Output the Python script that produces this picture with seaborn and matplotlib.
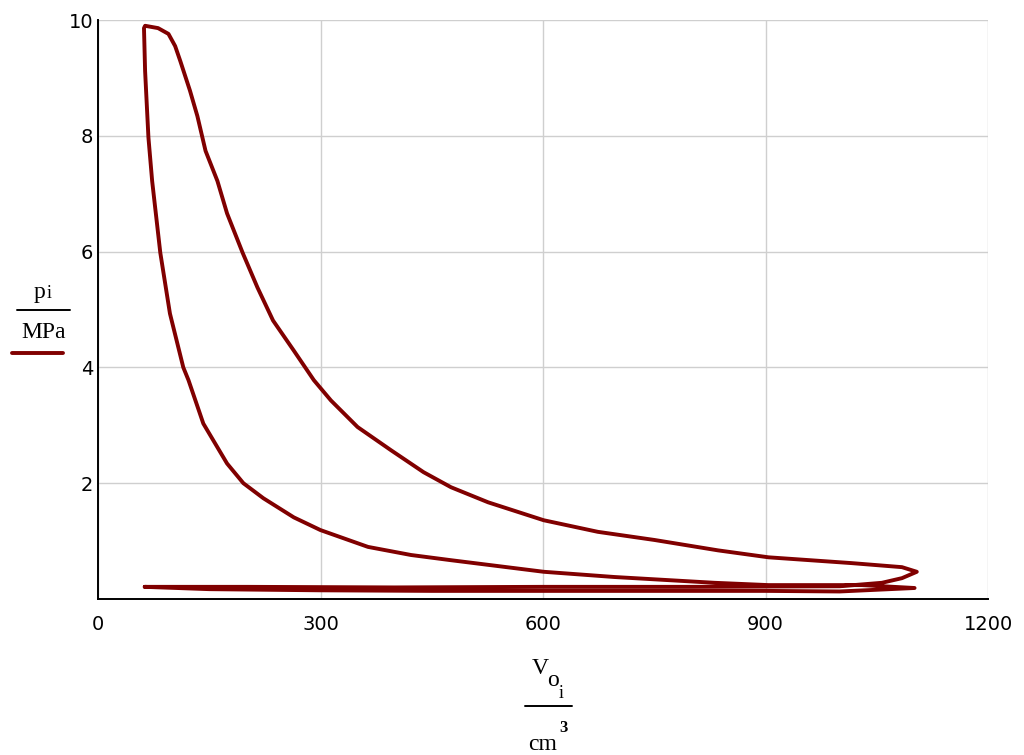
import pandas as pd
import seaborn as sns
import matplotlib.pyplot as plt

# indicator diagram, p over V (cm^3 / MPa)
intake_v = [63, 150, 300, 450, 600, 750, 900, 1000, 1101]
intake_p = [0.21, 0.17, 0.15, 0.14, 0.14, 0.14, 0.14, 0.13, 0.19]

compression_v = [1101, 1030, 904, 831, 696, 601, 526, 476, 422, 364, 300, 264, 223,
                 196, 174, 142, 122, 115, 97, 84, 73, 68, 66, 63.5, 62]
compression_p = [0.19, 0.24, 0.24, 0.28, 0.38, 0.47, 0.59, 0.67, 0.76, 0.90, 1.19, 1.41, 1.74,
                 2.0, 2.34, 3.03, 3.78, 4.0, 4.93, 5.98, 7.22, 7.97, 8.48, 9.12, 9.86]

expansion_v = [63.5, 81, 95, 104, 111, 124, 134, 145, 161, 174, 195, 215, 236, 264, 291,
               314, 350, 395, 439, 476, 526, 601, 674, 750, 836, 904, 1016, 1084, 1104]
expansion_p = [9.90, 9.86, 9.76, 9.55, 9.29, 8.78, 8.34, 7.74, 7.22, 6.66, 5.98, 5.38, 4.81, 4.29, 3.78,
               3.43, 2.97, 2.57, 2.19, 1.93, 1.67, 1.36, 1.16, 1.02, 0.84, 0.72, 0.62, 0.55, 0.47]

exhaust_v = [1104, 1084, 1057, 1000, 800, 600, 400, 200, 63]
exhaust_p = [0.47, 0.36, 0.28, 0.22, 0.21, 0.21, 0.20, 0.21, 0.21]

x_ticks = [0, 300, 600, 900, 1200]
y_ticks = [2, 4, 6, 8, 10]

df = pd.DataFrame({
    'V': intake_v + compression_v + expansion_v + exhaust_v,
    'p': intake_p + compression_p + expansion_p + exhaust_p,
})

sns.set_style('white')
plt.rcParams['font.family'] = ['DejaVu Sans']

fig = plt.figure(figsize=(10.24, 7.55), dpi=100)
ax = fig.add_axes([98 / 1024, 156 / 755, 890 / 1024, 579 / 755])

sns.lineplot(data=df, x='V', y='p', sort=False, estimator=None,
             color='#800000', linewidth=2.8, solid_joinstyle='round', ax=ax)

ax.set_xlim(0, 1200)
ax.set_ylim(0, 10)
ax.set_xticks(x_ticks)
ax.set_yticks(y_ticks)
ax.set_xlabel('')
ax.set_ylabel('')
ax.grid(True, color='#cfcfcf', linewidth=1.0)
for s in ['top', 'right']:
    ax.spines[s].set_visible(False)
for s in ['left', 'bottom']:
    ax.spines[s].set_color('black')
    ax.spines[s].set_linewidth(1.4)
ax.tick_params(axis='x', direction='inout', length=9, width=1.4, pad=7, labelsize=14, colors='black')
ax.tick_params(axis='y', direction='inout', length=7, width=1.4, pad=0, labelsize=14, colors='black')

serif = ['Liberation Serif', 'DejaVu Serif']

# y label as fraction p_i / MPa with legend stroke
fig.text(39 / 1024, 1 - 292 / 755, 'p', family=serif, fontsize=17, color='black', ha='center', va='center')
fig.text(49 / 1024, 1 - 293 / 755, 'i', family=serif, fontsize=13, color='black', ha='center', va='center')
fig.add_artist(plt.Line2D([17 / 1024, 70 / 1024], [1 - 310 / 755, 1 - 310 / 755], color='black', lw=1.4))
fig.text(44 / 1024, 1 - 332 / 755, 'MPa', family=serif, fontsize=17, color='black', ha='center', va='center')
fig.add_artist(plt.Line2D([12 / 1024, 63 / 1024], [1 - 353 / 755, 1 - 353 / 755], color='#800000', lw=2.8))

# x label as fraction V_o_i / cm^3
fig.text(540 / 1024, 1 - 668 / 755, 'V', family=serif, fontsize=17, color='black', ha='center', va='center')
fig.text(553 / 1024, 1 - 681 / 755, 'o', family=serif, fontsize=17, color='black', ha='center', va='center')
fig.text(561 / 1024, 1 - 694 / 755, 'i', family=serif, fontsize=13, color='black', ha='center', va='center')
fig.add_artist(plt.Line2D([525 / 1024, 572 / 1024], [1 - 706 / 755, 1 - 706 / 755], color='black', lw=1.4))
fig.text(563 / 1024, 1 - 728 / 755, '3', family=serif, fontsize=12, color='black', ha='center', va='center', weight='bold')
fig.text(543 / 1024, 1 - 745 / 755, 'cm', family=serif, fontsize=17, color='black', ha='center', va='center')

plt.savefig('out.png', dpi=100)
